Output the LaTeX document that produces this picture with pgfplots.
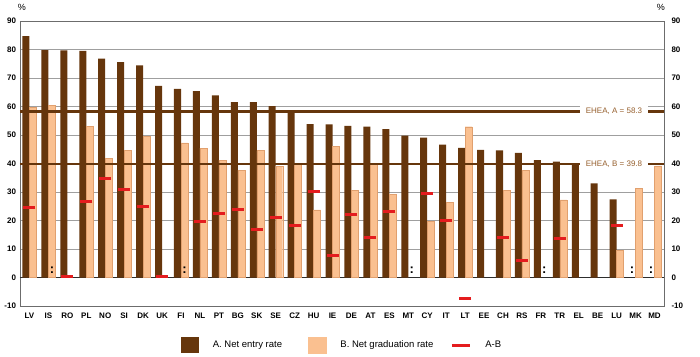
\documentclass[border=0pt]{standalone}
\usepackage{pgfplots}
\usepackage{pgfplotstable}
\pgfplotsset{compat=1.18}
\usepackage{fontspec}
\setmainfont{Liberation Sans}
\definecolor{Abrown}{RGB}{102,54,12}
\definecolor{Blight}{RGB}{250,192,144}
\definecolor{Bedge}{RGB}{225,160,110}
\definecolor{ABred}{RGB}{228,28,30}
\definecolor{EHEAtext}{RGB}{150,95,45}

\pgfplotstableread{
x A
0 84.7
1 79.8
2 79.7
3 79.5
4 76.8
5 75.6
6 74.4
7 67.2
8 66.2
9 65.4
10 63.9
11 61.5
12 61.5
13 60.1
14 58.2
15 53.8
16 53.7
17 53.2
18 52.9
19 52.1
20 49.8
21 49.1
22 46.6
23 45.5
24 44.8
25 44.6
26 43.7
27 41.2
28 40.7
29 39.9
30 33.0
31 27.4
}\tableA

\pgfplotstableread{
x B
0 59.8
1 60.5
3 53.0
4 41.9
5 44.7
6 49.6
8 47.2
9 45.4
10 41.2
11 37.7
12 44.5
13 39.0
14 39.8
15 23.7
16 46.0
17 30.7
18 39.9
19 29.1
21 19.7
22 26.3
23 52.9
25 30.5
26 37.7
28 27.2
31 9.5
32 31.4
33 39.2
}\tableB

\pgfplotstableread{
x AB
0 24.6
2 0.2
3 26.5
4 34.8
5 31.0
6 25.0
7 0.2
9 19.8
10 22.5
11 24.0
12 17.0
13 21.2
14 18.4
15 30.1
16 7.7
17 22.2
18 13.9
19 23.0
21 29.3
22 20.0
23 -7.4
25 14.0
26 6.0
28 13.7
31 18.1
}\tableAB

\pgfplotstableread{
x y
1.185 2.7
8.185 2.7
20.185 2.7
27.185 2.7
31.815 2.7
32.815 2.7
}\tableNA

\begin{document}
\begin{tikzpicture}
\path[use as bounding box] (-20pt,-50pt) rectangle (680pt,306pt);
\begin{axis}[
  scale only axis, width=644pt, height=285pt,
  xmin=-0.5, xmax=33.5, ymin=-10, ymax=90,
  xtick={0,...,33},
  xticklabels={LV,IS,RO,PL,NO,SI,DK,UK,FI,NL,PT,BG,SK,SE,CZ,HU,IE,DE,AT,ES,MT,CY,IT,LT,EE,CH,RS,FR,TR,EL,BE,LU,MK,MD},
  ytick={-10,0,10,...,90},
  ymajorgrids, grid style={draw=gray!75, line width=0.7pt},
  major tick length=0pt,
  axis line style={draw=gray!85!black, line width=0.8pt},
  tick label style={font=\fontsize{8}{9}\selectfont\bfseries},
  /pgf/number format/assume math mode=true,
  yticklabel style={xshift=-0.5pt},
  xticklabel style={yshift=-3pt},
  clip=false,
  legend columns=3,
  legend style={at={(0.2495,-0.137)}, anchor=west, draw=none, fill=none,
    font=\fontsize{9.5}{10}\selectfont, inner sep=0pt,
    nodes={inner sep=0pt},
    /tikz/every odd column/.append style={column sep=14pt},
    /tikz/every even column/.append style={column sep=26pt}},
]
\addplot[forget plot, draw=gray!35!black, line width=0.9pt] coordinates {(-0.5,0) (33.5,0)};
\addplot[ybar, bar width=0.37, bar shift=-0.185, fill=Abrown, draw=none,
  legend image code/.code={\fill[Abrown] (0pt,-8pt) rectangle (18pt,8pt);}]
  table[x=x, y=A] {\tableA};
\addlegendentry{A. Net entry rate}
\addplot[ybar, bar width=0.37, bar shift=0.185, fill=Blight, draw=Bedge, line width=0.4pt,
  legend image code/.code={\fill[Blight] (0pt,-8pt) rectangle (18pt,8pt);}]
  table[x=x, y=B] {\tableB};
\addlegendentry{B. Net graduation rate\hspace*{-9pt}}
\addplot[only marks, mark=-, mark size=6pt, mark options={draw=ABred, line width=3pt},
  legend image code/.code={\draw[ABred, line width=3pt] (0pt,0pt) -- (18pt,0pt);}]
  table[x=x, y=AB] {\tableAB};
\addlegendentry{A-B}
\addplot[forget plot, draw=Abrown, line width=3pt] coordinates {(-0.5,58.3) (33.5,58.3)};
\addplot[forget plot, draw=Abrown, line width=1.8pt] coordinates {(-0.5,39.8) (33.5,39.8)};
\addplot[forget plot, draw=none, mark=none, nodes near coords={\bfseries :},
  every node near coord/.append style={anchor=center, font=\fontsize{13}{13}\selectfont, inner sep=0pt}]
  table[x=x, y=y] {\tableNA};
\node[fill=white, text=EHEAtext, inner xsep=6pt, inner ysep=2pt, font=\fontsize{8}{9}\selectfont] at (axis cs:30.86,58.3) {EHEA, A = 58.3};
\node[fill=white, text=EHEAtext, inner xsep=6pt, inner ysep=2pt, font=\fontsize{8}{9}\selectfont] at (axis cs:30.86,39.8) {EHEA, B = 39.8};
\node[font=\fontsize{9}{10}\selectfont] at ([yshift=14pt]rel axis cs:0.003,1) {\%};
\node[font=\fontsize{9}{10}\selectfont] at ([yshift=14pt]rel axis cs:0.995,1) {\%};
\end{axis}
\begin{axis}[
  scale only axis, width=644pt, height=285pt,
  xmin=-0.5, xmax=33.5, ymin=-10, ymax=90,
  hide x axis,
  axis y line*=right,
  y axis line style={draw=none},
  ytick={-10,0,10,...,90},
  major tick length=0pt,
  tick label style={font=\fontsize{8}{9}\selectfont\bfseries},
  /pgf/number format/assume math mode=true,
  yticklabel style={xshift=4pt},
]
\end{axis}
\end{tikzpicture}
\end{document}
